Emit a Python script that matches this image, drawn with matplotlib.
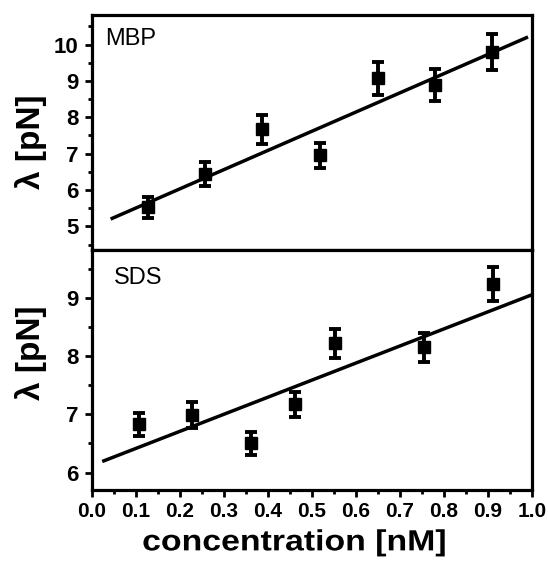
import matplotlib
matplotlib.use("Agg")
import matplotlib.pyplot as plt
from matplotlib.ticker import MultipleLocator
from matplotlib import patheffects
from matplotlib.transforms import Affine2D

plt.rcParams['font.family'] = ['Liberation Sans', 'DejaVu Sans']

# MBP panel
mbp_x = [0.129, 0.257, 0.387, 0.518, 0.650, 0.780, 0.910]
mbp_y = [5.52, 6.44, 7.67, 6.95, 9.07, 8.89, 9.80]
mbp_err = [0.28, 0.32, 0.40, 0.35, 0.46, 0.44, 0.50]
mbp_fit_x = [0.047, 0.988]
mbp_fit_y = [5.22, 10.19]

# SDS panel
sds_x = [0.108, 0.228, 0.363, 0.462, 0.553, 0.755, 0.913]
sds_y = [6.83, 6.99, 6.50, 7.17, 8.22, 8.15, 9.24]
sds_err = [0.20, 0.22, 0.20, 0.21, 0.25, 0.25, 0.29]
sds_fit_x = [0.028, 1.0]
sds_fit_y = [6.20, 9.05]

x_ticks = [0.0, 0.1, 0.2, 0.3, 0.4, 0.5, 0.6, 0.7, 0.8, 0.9, 1.0]
x_ticklabels = ["0.0", "0.1", "0.2", "0.3", "0.4", "0.5", "0.6", "0.7", "0.8", "0.9", "1.0"]
mbp_yticks = [5, 6, 7, 8, 9, 10]
sds_yticks = [6, 7, 8, 9]


class StretchX(patheffects.AbstractPathEffect):
    """Widen glyphs along the baseline, keeping the text centred."""
    def __init__(self, sx):
        super().__init__()
        self.sx = sx

    def draw_path(self, renderer, gc, tpath, affine, rgbFace=None):
        ext = tpath.get_extents()
        cx = 0.5 * (ext.x0 + ext.x1)
        a = Affine2D().translate(-cx, 0).scale(self.sx, 1).translate(cx, 0) + affine
        renderer.draw_path(gc, tpath, a, rgbFace)


fig = plt.figure(figsize=(5.48, 5.61), dpi=100)
ax1 = fig.add_axes([0.167, 0.5544, 0.8033, 0.418])
ax2 = fig.add_axes([0.167, 0.1266, 0.8033, 0.4278])


def style(ax, label, lx, ly, ylab_y):
    for s in ax.spines.values():
        s.set_linewidth(2.3)
    ax.tick_params(axis='both', which='major', direction='out', length=5, width=2.0,
                   top=False, right=False)
    ax.tick_params(axis='both', which='minor', direction='out', length=3, width=2.0,
                   top=False, right=False)
    ax.tick_params(axis='y', labelsize=16, pad=4.5)
    ax.tick_params(axis='x', labelsize=15, pad=3.5)
    for t in ax.get_yticklabels() + ax.get_xticklabels():
        t.set_fontweight('bold')
    ax.set_ylabel("λ [pN]", fontsize=24, fontweight='bold')
    ax.yaxis.set_label_coords(-0.101, ylab_y)
    ax.text(lx, ly, label, transform=ax.transAxes, fontsize=17,
            va='top', ha='left')


for ax, x, y, e, fx, fy in [(ax1, mbp_x, mbp_y, mbp_err, mbp_fit_x, mbp_fit_y),
                             (ax2, sds_x, sds_y, sds_err, sds_fit_x, sds_fit_y)]:
    ax.plot(fx, fy, color='black', lw=2.5)
    ax.errorbar(x, y, yerr=e, fmt='s', color='black', ms=8, elinewidth=2.8,
                capsize=4.3, capthick=2.8)
    ax.set_xlim(0.0, 1.0)
    ax.set_xticks(x_ticks)
    ax.xaxis.set_minor_locator(MultipleLocator(0.05))
    ax.yaxis.set_minor_locator(MultipleLocator(0.5))

ax1.set_ylim(4.35, 10.8)
ax1.set_yticks(mbp_yticks)
ax1.tick_params(axis='x', which='both', bottom=False, labelbottom=False)
ax2.set_ylim(5.7, 9.82)
ax2.set_yticks(sds_yticks)
ax2.set_xticklabels(x_ticklabels)

style(ax1, "MBP", 0.031, 0.947, 0.463)
style(ax2, "SDS", 0.05, 0.93, 0.573)
xl = ax2.set_xlabel("concentration [nM]", fontsize=21, fontweight='bold')
xl.set_path_effects([StretchX(1.16)])
xl.set_va('top')
ax2.xaxis.set_label_coords(0.46, -0.16)

fig.savefig("out.png", dpi=100)
